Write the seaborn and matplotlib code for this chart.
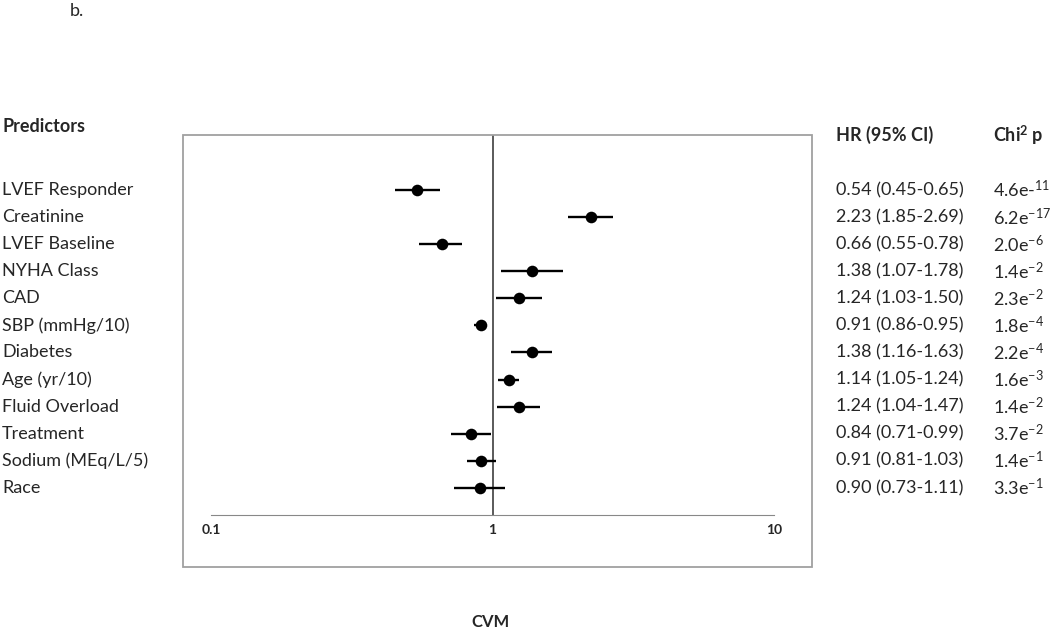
import numpy as np
import pandas as pd
import matplotlib
matplotlib.use("Agg")
import matplotlib.pyplot as plt
import matplotlib.transforms as mtransforms
from matplotlib.patches import Rectangle
from matplotlib.ticker import NullFormatter
import seaborn as sns

# Datos del modelo
predictors = ["LVEF Responder", "Creatinine", "LVEF Baseline", "NYHA Class", "CAD",
              "SBP (mmHg/10)", "Diabetes", "Age (yr/10)", "Fluid Overload",
              "Treatment", "Sodium (MEq/L/5)", "Race"]
hr = [0.54, 2.23, 0.66, 1.38, 1.24, 0.91, 1.38, 1.14, 1.24, 0.84, 0.91, 0.90]
ci_low = [0.45, 1.85, 0.55, 1.07, 1.03, 0.86, 1.16, 1.05, 1.04, 0.71, 0.81, 0.73]
ci_high = [0.65, 2.69, 0.78, 1.78, 1.50, 0.95, 1.63, 1.24, 1.47, 0.99, 1.03, 1.11]
p_values = [r"4.6e-$^{11}$", r"6.2e$^{-17}$", r"2.0e$^{-6}$", r"1.4e$^{-2}$",
            r"2.3e$^{-2}$", r"1.8e$^{-4}$", r"2.2e$^{-4}$", r"1.6e$^{-3}$",
            r"1.4e$^{-2}$", r"3.7e$^{-2}$", r"1.4e$^{-1}$", r"3.3e$^{-1}$"]
x_ticks = [0.1, 1, 10]
x_tick_labels = ["0.1", "1", "10"]

df = pd.DataFrame({"predictor": predictors, "hr": hr, "lo": ci_low, "hi": ci_high,
                   "row": np.arange(len(predictors))})

sns.set_style("white")
plt.rcParams["font.family"] = ["Lato", "DejaVu Sans"]
plt.rcParams["mathtext.fontset"] = "custom"
plt.rcParams["mathtext.rm"] = "Lato"
plt.rcParams["mathtext.it"] = "Lato:italic"
plt.rcParams["mathtext.bf"] = "Lato:bold"

W, H = 1050, 632
fig = plt.figure(figsize=(10.5, 6.32), dpi=100)
ax = fig.add_axes([183 / W, 1 - 567 / H, (812 - 183) / W, (567 - 135) / H])

# Intervalos de confianza y puntos
ax.hlines(df["row"], df["lo"], df["hi"], color="black", lw=1.7, zorder=2)
sns.scatterplot(data=df, x="hr", y="row", color="black", s=70, linewidth=0,
                ax=ax, zorder=3, legend=False)

ax.set_xscale("log")
ax.set_xlim(10 ** (-1 - 28 / 281.5), 10 ** (1 + 38 / 281.5))
ax.set_ylim(12 + 52 / 27.09, -55 / 27.09)

# Linea de referencia en HR = 1
ax.vlines(1, -55 / 27.09, 12, color="#5a5a5a", lw=1.4, zorder=1)

# Marco exterior y eje interno
for s in ["left", "right", "top"]:
    ax.spines[s].set_visible(False)
ax.spines["bottom"].set_position(("data", 12))
ax.spines["bottom"].set_bounds(0.1, 10)
ax.spines["bottom"].set_color("#888888")
ax.add_patch(Rectangle((0, 0), 1, 1, transform=ax.transAxes, fill=False,
                       ec="#a0a0a0", lw=1.3, clip_on=False))

ax.set_xticks(x_ticks)
ax.set_xticklabels(x_tick_labels, fontweight="bold", fontsize=10)
ax.set_xticks([k * 10.0 ** e for e in (-1, 0) for k in range(2, 10)], minor=True)
ax.xaxis.set_minor_formatter(NullFormatter())
ax.tick_params(axis="x", which="both", direction="out", length=3.8, width=1,
               color="#888888", pad=2.5)
ax.set_yticks([])
ax.set_xlabel("")
ax.set_ylabel("")

# Columnas de texto
trans = mtransforms.blended_transform_factory(fig.transFigure, ax.transData)
for _, r in df.iterrows():
    ax.text(2 / W, r["row"], r["predictor"], transform=trans, va="center",
            ha="left", fontsize=13)
    ax.text(836 / W, r["row"], f"{r['hr']:.2f} ({r['lo']:.2f}-{r['hi']:.2f})",
            transform=trans, va="center", ha="left", fontsize=13)
for i, p in enumerate(p_values):
    ax.text(993 / W, i, p, transform=trans, va="center", ha="left", fontsize=13)

fig.text(2 / W, 1 - 127 / H, "Predictors", fontweight="bold", fontsize=13, va="center")
fig.text(836 / W, 1 - 135 / H, "HR (95% CI)", fontweight="bold", fontsize=13, va="center")
fig.text(993 / W, 1 - 135 / H, r"Chi$^{\mathbf{2}}$ p", fontweight="bold", fontsize=13, va="center")
fig.text(70 / W, 1 - 11 / H, "b.", fontsize=13, va="center")
fig.text(490 / W, 1 - 622 / H, "CVM", fontweight="bold", fontsize=12, va="center", ha="center")

fig.savefig("out.png", dpi=100)
